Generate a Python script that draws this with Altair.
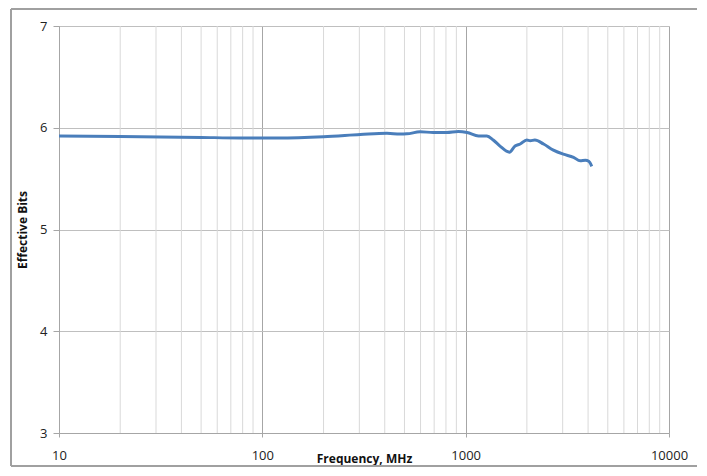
import altair as alt
import pandas as pd

freq = [10, 20, 50, 78, 120, 200, 303, 410, 475, 514, 597, 693, 806, 921, 1016,
        1157, 1271, 1366, 1475, 1641, 1750, 1855, 1997, 2076, 2190, 2416, 2700,
        3021, 3393, 3657, 3880, 4030, 4170]
bits = [5.92, 5.915, 5.905, 5.90, 5.90, 5.912, 5.933, 5.946, 5.938, 5.94, 5.96,
        5.954, 5.954, 5.964, 5.954, 5.92, 5.918, 5.88, 5.82, 5.76, 5.82, 5.84,
        5.88, 5.872, 5.88, 5.84, 5.78, 5.74, 5.71, 5.675, 5.68, 5.67, 5.62]
minor_ticks = [20, 30, 40, 50, 60, 70, 80, 90,
               200, 300, 400, 500, 600, 700, 800, 900,
               2000, 3000, 4000, 5000, 6000, 7000, 8000, 9000]
major_ticks = [10, 100, 1000, 10000]
y_ticks = [3, 4, 5, 6, 7]

df = pd.DataFrame({"f": freq, "b": bits})
minor_df = pd.DataFrame({"f": minor_ticks})

xscale = alt.Scale(type="log", domain=[10, 10000])
yscale = alt.Scale(domain=[3, 7])

xaxis = alt.Axis(values=major_ticks, title="Frequency, MHz", grid=True,
                 gridColor="#a6a6a6", domainColor="#a6a6a6", tickColor="#a6a6a6",
                 tickSize=4, labelFontSize=13, labelColor="#222",
                 labelPadding=12, titleFontSize=12, titleFontWeight="bold",
                 titleY=29, titleBaseline="alphabetic", titleColor="#111",
                 labelFont="Open Sans", titleFont="Open Sans",
                 labelFlush=False, format="d")
yaxis = alt.Axis(values=y_ticks, title="Effective Bits", grid=True,
                 gridColor="#bfbfbf", domainColor="#a6a6a6", tickColor="#a6a6a6",
                 tickSize=6, labelFontSize=13, labelColor="#222", labelPadding=6,
                 titleFontSize=12, titleFontWeight="bold", titlePadding=10,
                 titleColor="#111",
                 labelFont="Open Sans", titleFont="Open Sans", format="d")

minor = alt.Chart(minor_df).mark_rule(color="#d9d9d9", strokeWidth=1).encode(
    x=alt.X("f:Q", scale=xscale, axis=xaxis)
)

line = alt.Chart(df).mark_line(color="#4a7ebb", strokeWidth=3, interpolate="monotone").encode(
    x=alt.X("f:Q", scale=xscale, axis=xaxis),
    y=alt.Y("b:Q", scale=yscale, axis=yaxis),
)

border_l = alt.Chart(minor_df).mark_rule(color="#a0a0a0", strokeWidth=1.5).encode(
    x=alt.value(-48), y=alt.value(-17), y2=alt.value(440))
border_r = alt.Chart(minor_df).mark_rule(color="#a0a0a0", strokeWidth=1.5).encode(
    x=alt.value(641), y=alt.value(-17), y2=alt.value(440))
border_t = alt.Chart(minor_df).mark_rule(color="#a0a0a0", strokeWidth=1.5).encode(
    x=alt.value(-48), x2=alt.value(641), y=alt.value(-17))
border_b = alt.Chart(minor_df).mark_rule(color="#a0a0a0", strokeWidth=1.5).encode(
    x=alt.value(-48), x2=alt.value(641), y=alt.value(440))

chart = alt.layer(minor, line, border_l, border_r, border_t, border_b).properties(
    width=610, height=407,
    autosize=alt.AutoSizeParams(type="none"),
    padding={"left": 51, "top": 18, "right": 28, "bottom": 35},
).configure_view(stroke=None).configure(background="white")

chart.save("out.html", embed_options={"renderer": "svg", "actions": False})
